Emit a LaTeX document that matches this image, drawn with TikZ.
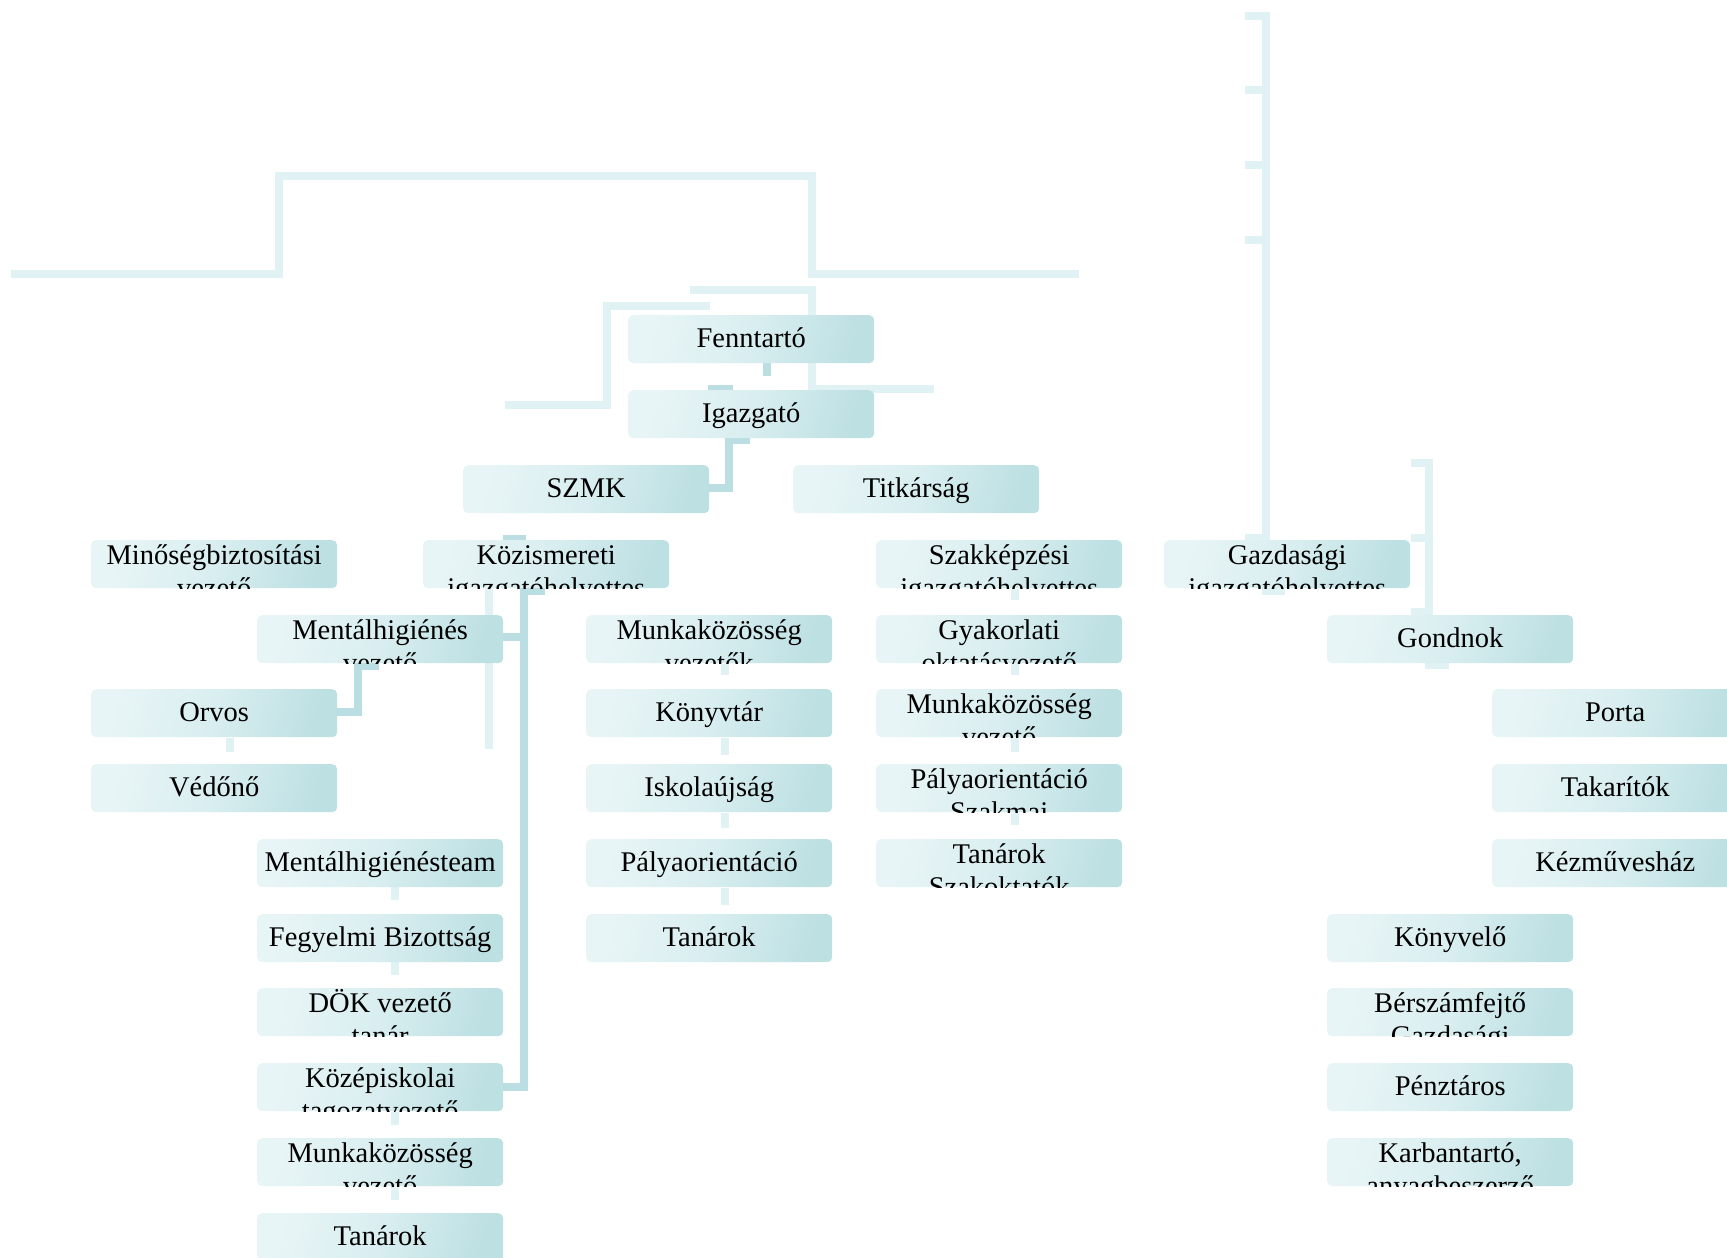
\documentclass[tikz,border=0pt]{standalone}
\usepackage{fontspec}
\setmainfont{Liberation Serif}
\usetikzlibrary{calc}
\definecolor{boxL}{HTML}{E8F5F6}
\definecolor{boxM}{HTML}{D9EEF0}
\definecolor{boxR}{HTML}{BDE0E3}
\definecolor{lineL}{HTML}{E0F2F3}
\definecolor{lineD}{HTML}{BADEE1}
\tikzset{
  orgbox/.style={rounded corners=5pt, minimum width=246pt, minimum height=48pt, inner sep=0pt,
    left color=boxL, right color=boxR, middle color=boxM, shading angle=75, anchor=north west},
  lbl/.style={font=\fontsize{28.5}{34}\selectfont, anchor=base, inner sep=0pt, text=black},
  lite/.style={line width=8pt, draw=lineL, line join=miter},
  dark/.style={line width=8pt, draw=lineD, line join=miter},
}
\newcommand\boxone[4]{%
  \node[orgbox] (#1) at (#2,#3) {};
  \node[lbl] (#1-t) at ($(#1.north)+(0,32)$) {#4};}
\newcommand\boxtwo[5]{%
  \node[orgbox] (#1) at (#2,#3) {};
  \begin{scope}
    \clip[rounded corners=5pt] (#1.north west) rectangle (#1.south east);
    \node[lbl] (#1-t) at ($(#1.north)+(0,24)$) {#4};
    \node[lbl] (#1-u) at ($(#1.north)+(0,57)$) {#5};
  \end{scope}}
\begin{document}
\begin{tikzpicture}[x=1pt,y=-1pt]
\clip (0,0) rectangle (1727,1258);
\fill[white] (0,0) rectangle (1727,1258);
% light connectors
\draw[lite] (11,274) -- (279,274) -- (279,176) -- (812,176) -- (812,274) -- (1079,274);
\draw[lite] (690,290) -- (812,290) -- (812,389) -- (934,389);
\draw[lite] (710,306) -- (607,306) -- (607,405) -- (505,405);
\draw[lite] (1245,16) -- (1266,16) -- (1266,591) -- (1285,591);
\foreach \yy in {90,165,240,538} \draw[lite] (1245,\yy) -- (1266,\yy);
\draw[lite] (1411,463) -- (1429,463) -- (1429,665) -- (1449,665);
\foreach \yy in {538,612} \draw[lite] (1411,\yy) -- (1429,\yy);
\draw[lite] (489,589) -- (489,749);
\draw[lite] (230,738) -- (230,752);
\foreach \ya/\yb in {887/900,962/975,1112/1125,1187/1200} \draw[lite] (395,\ya) -- (395,\yb);
\foreach \ya/\yb in {664/675,738/755,813/828,888/905} \draw[lite] (725,\ya) -- (725,\yb);
\foreach \ya/\yb in {589/600,663/675,738/752,813/825} \draw[lite] (1015,\ya) -- (1015,\yb);
% dark connectors
\draw[dark] (767,363) -- (767,376);
\draw[dark] (708,389) -- (733,389);
\draw[dark] (750,440) -- (729,440) -- (729,488) -- (708,488);
\draw[dark] (503,539) -- (526,539);
\draw[dark] (545,591) -- (524,591) -- (524,1087) -- (502,1087);
\draw[dark] (524,637) -- (502,637);
\draw[dark] (379,666) -- (358,666) -- (358,712) -- (337,712);
% boxes
\boxone{fenn}{628}{315}{Fenntartó}
\boxone{igaz}{628}{390}{Igazgató}
\boxone{szmk}{463}{465}{SZMK}
\boxone{titk}{793}{465}{Titkárság}
\boxtwo{minos}{91}{540}{Minőségbiztosítási}{vezető}
\boxtwo{kozism}{423}{540}{Közismereti}{igazgatóhelyettes}
\boxtwo{szakk}{876}{540}{Szakképzési}{igazgatóhelyettes}
\boxtwo{gazd}{1164}{540}{Gazdasági}{igazgatóhelyettes}
\boxtwo{mental}{257}{615}{Mentálhigiénés}{vezető}
\boxtwo{mkvk}{586}{615}{Munkaközösség}{vezetők}
\boxtwo{gyak}{876}{615}{Gyakorlati}{oktatásvezető}
\boxone{gond}{1327}{615}{Gondnok}
\boxone{orvos}{91}{689}{Orvos}
\boxone{konyvtar}{586}{689}{Könyvtár}
\boxtwo{mkvb}{876}{689}{Munkaközösség}{vezető}
\boxone{porta}{1492}{689}{Porta}
\boxone{vedono}{91}{764}{Védőnő}
\boxone{isk}{586}{764}{Iskolaújság}
\boxtwo{palyab}{876}{764}{Pályaorientáció}{Szakmai}
\boxone{takar}{1492}{764}{Takarítók}
\boxone{mteam}{257}{839}{Mentálhigiénésteam}
\boxone{palya}{586}{839}{Pályaorientáció}
\boxtwo{tanarb}{876}{839}{Tanárok}{Szakoktatók}
\boxone{kezm}{1492}{839}{Kézművesház}
\boxone{fegy}{257}{914}{Fegyelmi Bizottság}
\boxone{tanara}{586}{914}{Tanárok}
\boxone{konyvelo}{1327}{914}{Könyvelő}
\boxtwo{dok}{257}{988}{DÖK vezető}{tanár}
\boxtwo{berszam}{1327}{988}{Bérszámfejtő}{Gazdasági}
\boxtwo{kozep}{257}{1063}{Középiskolai}{tagozatvezető}
\boxone{penzt}{1327}{1063}{Pénztáros}
\boxtwo{mkvc}{257}{1138}{Munkaközösség}{vezető}
\boxtwo{karb}{1327}{1138}{Karbantartó,}{anyagbeszerző}
\boxone{tanarc}{257}{1213}{Tanárok}
\end{tikzpicture}
\end{document}
